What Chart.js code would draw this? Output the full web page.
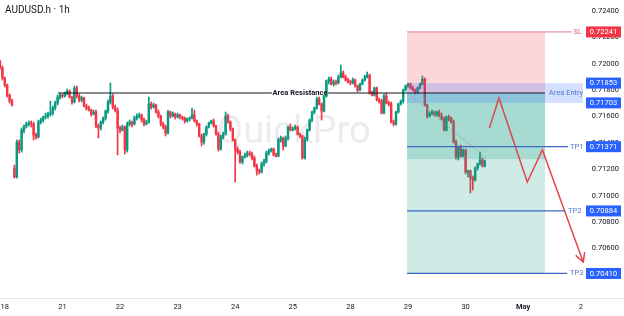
<!DOCTYPE html>
<html>
<head>
<meta charset="utf-8">
<style>
  html, body { margin: 0; padding: 0; background: #fff; }
  canvas { display: block; }
</style>
<script src="https://cdn.jsdelivr.net/npm/chart.js@4.4.1/dist/chart.umd.min.js"></script>
</head>
<body>
<canvas id="chart" width="624" height="316"></canvas>
<script>
// hourly candles, bar 0 = first hour of the 18th
const firstBar = -2;

const opens = [
  .72013,.71967,.71892,.71839,.71763,.71717,.71209,.71141,.71406,.71346,
  .71497,.71528,.71543,.71550,.71543,.71459,.71444,.71558,.71573,.71596,
  .71603,.71619,.71626,.71664,.71702,.71747,.71763,.71755,.71778,.71793,
  .71747,.71710,.71816,.71755,.71725,.71740,.71679,.71664,.71649,.71619,
  .71634,.71528,.71513,.71558,.71588,.71641,.71710,.71755,.71672,.71649,
  .71513,.71497,.71520,.71346,.71543,.71558,.71543,.71588,.71603,.71611,
  .71573,.71543,.71558,.71694,.71672,.71687,.71634,.71603,.71543,.71520,
  .71475,.71634,.71603,.71619,.71596,.71611,.71596,.71588,.71566,.71581,
  .71588,.71611,.71566,.71543,.71452,.71406,.71467,.71520,.71550,.71566,
  .71528,.71467,.71353,.71444,.71467,.71603,.71558,.71505,.71422,.71353,
  .71330,.71255,.71293,.71308,.71323,.71315,.71285,.71224,.71187,.71179,
  .71240,.71262,.71323,.71338,.71353,.71308,.71300,.71422,.71437,.71376,
  .71437,.71520,.71497,.71505,.71520,.71467,.71452,.71285,.71429,.71497,
  .71573,.71634,.71664,.71732,.71694,.71641,.71755,.71869,.71884,.71846,
  .71861,.71854,.71899,.71930,.71899,.71876,.71861,.71854,.71876,.71831,
  .71801,.71846,.71876,.71899,.71914,.71778,.71763,.71816,.71725,.71717,
  .71626,.71755,.71702,.71694,.71558,.71543,.71634,.71694,.71717,.71801,
  .71831,.71846,.71816,.71801,.71785,.71816,.71846,.71884,.71687,.71603,
  .71619,.71634,.71611,.71634,.71603,.71581,.71497,.71596,.71588,.71558,
  .71406,.71293,.71369,.71300,.71346,.71179,.71187,.71133,.71118,.71209,
  .71240,.71270,.71224
];
const highs = [
  .72028,.71983,.71899,.71846,.71770,.71732,.71232,.71422,.71422,.71513,
  .71535,.71558,.71566,.71566,.71558,.71475,.71573,.71588,.71603,.71626,
  .71634,.71717,.71679,.71717,.71763,.71778,.71770,.71785,.71808,.71801,
  .71755,.71831,.71831,.71770,.71755,.71747,.71694,.71679,.71656,.71649,
  .71649,.71543,.71566,.71596,.71649,.71725,.71854,.71770,.71687,.71664,
  .71528,.71535,.71528,.71558,.71573,.71566,.71603,.71619,.71626,.71619,
  .71588,.71573,.71747,.71710,.71702,.71694,.71649,.71611,.71558,.71535,
  .71649,.71641,.71634,.71626,.71626,.71619,.71603,.71596,.71588,.71596,
  .71664,.71649,.71573,.71550,.71467,.71475,.71528,.71558,.71573,.71581,
  .71535,.71482,.71459,.71482,.71634,.71619,.71566,.71513,.71429,.71369,
  .71346,.71300,.71323,.71338,.71338,.71330,.71300,.71240,.71202,.71255,
  .71277,.71338,.71353,.71361,.71361,.71323,.71437,.71452,.71444,.71452,
  .71528,.71543,.71520,.71535,.71528,.71475,.71459,.71444,.71505,.71581,
  .71641,.71672,.71747,.71747,.71702,.71763,.71876,.71899,.71899,.71876,
  .71876,.71914,.71990,.71945,.71914,.71892,.71876,.71892,.71884,.71839,
  .71854,.71884,.71914,.71937,.71922,.71793,.71823,.71823,.71740,.71732,
  .71770,.71778,.71717,.71710,.71573,.71641,.71702,.71725,.71808,.71839,
  .71854,.71854,.71831,.71808,.71823,.71854,.71907,.71892,.71694,.71634,
  .71649,.71641,.71641,.71649,.71626,.71596,.71603,.71611,.71596,.71573,
  .71422,.71376,.71384,.71353,.71353,.71194,.71194,.71149,.71217,.71247,
  .71330,.71285,.71270
];
const lows = [
  .71960,.71876,.71823,.71747,.71702,.71679,.71133,.71133,.71323,.71330,
  .71475,.71513,.71528,.71520,.71422,.71429,.71437,.71543,.71558,.71581,
  .71588,.71603,.71611,.71649,.71687,.71732,.71740,.71747,.71763,.71740,
  .71694,.71702,.71740,.71710,.71710,.71672,.71649,.71641,.71603,.71611,
  .71513,.71437,.71497,.71543,.71573,.71626,.71694,.71656,.71634,.71308,
  .71475,.71490,.71315,.71330,.71528,.71520,.71535,.71573,.71588,.71558,
  .71528,.71535,.71550,.71656,.71664,.71626,.71588,.71528,.71505,.71452,
  .71467,.71588,.71596,.71581,.71588,.71581,.71573,.71550,.71558,.71566,
  .71581,.71558,.71528,.71444,.71376,.71391,.71452,.71513,.71543,.71520,
  .71459,.71338,.71346,.71429,.71459,.71550,.71490,.71414,.71103,.71315,
  .71247,.71240,.71285,.71293,.71300,.71270,.71217,.71156,.71164,.71171,
  .71224,.71247,.71308,.71330,.71300,.71293,.71293,.71406,.71346,.71369,
  .71422,.71490,.71490,.71497,.71459,.71437,.71277,.71277,.71414,.71490,
  .71558,.71619,.71656,.71687,.71573,.71634,.71747,.71846,.71839,.71831,
  .71839,.71846,.71892,.71892,.71869,.71854,.71839,.71846,.71823,.71785,
  .71793,.71839,.71869,.71892,.71770,.71755,.71755,.71717,.71702,.71619,
  .71619,.71694,.71679,.71550,.71528,.71535,.71626,.71687,.71702,.71793,
  .71823,.71808,.71793,.71770,.71778,.71808,.71839,.71679,.71588,.71596,
  .71611,.71603,.71603,.71596,.71573,.71490,.71490,.71566,.71550,.71399,
  .71277,.71270,.71293,.71293,.71164,.71141,.71020,.71042,.71111,.71194,
  .71232,.71217,.71217
];
const closes = [
  .71967,.71892,.71839,.71763,.71717,.71687,.71141,.71406,.71346,.71497,
  .71528,.71543,.71550,.71543,.71459,.71444,.71558,.71573,.71596,.71603,
  .71619,.71626,.71664,.71702,.71747,.71763,.71755,.71778,.71793,.71747,
  .71710,.71816,.71755,.71725,.71740,.71679,.71664,.71649,.71619,.71634,
  .71528,.71513,.71558,.71588,.71641,.71710,.71755,.71672,.71649,.71513,
  .71497,.71520,.71346,.71543,.71558,.71543,.71588,.71603,.71611,.71573,
  .71543,.71558,.71694,.71672,.71687,.71634,.71603,.71543,.71520,.71475,
  .71634,.71603,.71619,.71596,.71611,.71596,.71588,.71566,.71581,.71588,
  .71611,.71566,.71543,.71452,.71406,.71467,.71520,.71550,.71566,.71528,
  .71467,.71353,.71444,.71467,.71603,.71558,.71505,.71422,.71353,.71330,
  .71255,.71293,.71308,.71323,.71315,.71285,.71224,.71187,.71179,.71240,
  .71262,.71323,.71338,.71353,.71308,.71300,.71422,.71437,.71376,.71437,
  .71520,.71497,.71505,.71520,.71467,.71452,.71285,.71429,.71497,.71573,
  .71634,.71664,.71732,.71694,.71641,.71755,.71869,.71884,.71846,.71861,
  .71854,.71899,.71930,.71899,.71876,.71861,.71854,.71876,.71831,.71801,
  .71846,.71876,.71899,.71914,.71778,.71763,.71816,.71725,.71717,.71626,
  .71755,.71702,.71694,.71558,.71543,.71634,.71694,.71717,.71801,.71831,
  .71846,.71816,.71801,.71785,.71816,.71846,.71884,.71687,.71603,.71619,
  .71634,.71611,.71634,.71603,.71581,.71497,.71596,.71588,.71558,.71406,
  .71293,.71369,.71300,.71346,.71179,.71187,.71133,.71118,.71209,.71240,
  .71270,.71224,.71262
];

const dayTicks = [0, 24, 48, 72, 96, 120, 144, 168, 192, 216, 240];
const dayLabels = ['18', '21', '22', '23', '24', '25', '28', '29', '30', 'May', '2'];
const priceTicks = [0.724, 0.722, 0.720, 0.718, 0.716, 0.714, 0.712, 0.710, 0.708, 0.706, 0.704];

// trade levels
const slPrice = 0.72241;
const entryPrice = 0.71778;
const entryTop = 0.71853;
const entryBottom = 0.71703;
const tp1 = 0.71371;
const tp2 = 0.70884;
const tp3 = 0.70410;
const firstTarget = 0.71277;

// drawing anchors, in bars
const zoneStart = 167.6, zoneEnd = 225.1, bandEnd = 240.9;
const resistX = [22.2, 111.3, 134.7, 225.1];
const pathX = [201.9, 205.9, 217.7, 224.0, 241.0];
const pathY = [0.71513, 0.71740, 0.71103, 0.71346, 0.70497];
const trendX = [168.0, 200.9];
const trendY = [0.71778, 0.71277];

const UP = '#089981';
const DOWN = '#f23645';
const FONT = 'Roboto';
Chart.defaults.font.family = FONT;

const barX = opens.map((o, i) => firstBar + i);
const candleColors = opens.map((o, i) => closes[i] >= o ? UP : DOWN);

function hline(x0, x1, p) {
  return [{ x: x0, y: p }, { x: x1, y: p }];
}

const overlay = {
  id: 'overlay',
  beforeDatasetsDraw(chart) {
    const { ctx } = chart;
    ctx.save();
    ctx.font = '38px ' + FONT;
    ctx.fillStyle = 'rgba(120,123,134,0.14)';
    ctx.textBaseline = 'alphabetic';
    ctx.fillText('QuickPro', 217, 143);
    ctx.restore();
  },
  afterDatasetDraw(chart, args) {
    if (args.index !== 1) return;
    const { ctx } = chart;
    const x = chart.scales.x, y = chart.scales.y;
    const rect = (x0, x1, p0, p1, fill) => {
      const a = x.getPixelForValue(x0), b = x.getPixelForValue(x1);
      const c = y.getPixelForValue(p0), d = y.getPixelForValue(p1);
      ctx.fillStyle = fill;
      ctx.fillRect(a, Math.min(c, d), b - a, Math.abs(d - c));
    };
    ctx.save();
    rect(zoneStart, zoneEnd, slPrice, entryPrice, 'rgba(242,54,69,0.2)');
    rect(zoneStart, zoneEnd, entryPrice, tp3, 'rgba(8,153,129,0.2)');
    rect(zoneStart, zoneEnd, entryPrice, firstTarget, 'rgba(8,153,129,0.2)');
    rect(zoneStart, bandEnd, entryTop, entryBottom, 'rgba(41,98,255,0.2)');
    ctx.restore();
  },
  afterDraw(chart) {
    const { ctx } = chart;
    const x = chart.scales.x, y = chart.scales.y;
    ctx.save();

    // arrow head at the end of the projected path
    const n = pathX.length;
    const ex = x.getPixelForValue(pathX[n - 1]), ey = y.getPixelForValue(pathY[n - 1]);
    const sx = x.getPixelForValue(pathX[n - 2]), sy = y.getPixelForValue(pathY[n - 2]);
    const ang = Math.atan2(ey - sy, ex - sx);
    ctx.strokeStyle = '#e0474f';
    ctx.lineWidth = 1.5;
    ctx.beginPath();
    ctx.moveTo(ex - 10 * Math.cos(ang - 0.5), ey - 10 * Math.sin(ang - 0.5));
    ctx.lineTo(ex, ey);
    ctx.lineTo(ex - 10 * Math.cos(ang + 0.5), ey - 10 * Math.sin(ang + 0.5));
    ctx.stroke();

    // title
    ctx.font = '10px ' + FONT;
    ctx.fillStyle = '#131722';
    ctx.textBaseline = 'middle';
    ctx.textAlign = 'left';
    ctx.fillText('AUDUSD.h \u00b7 1h', 5, 10);

    // drawing labels
    ctx.font = 'bold 7.5px ' + FONT;
    ctx.textAlign = 'center';
    ctx.fillText('Area Resistance', x.getPixelForValue(123), y.getPixelForValue(entryPrice));
    ctx.font = '7.5px ' + FONT;
    ctx.fillStyle = '#5577cc';
    ctx.fillText('Area Entry', 566, y.getPixelForValue(entryPrice));
    ctx.textAlign = 'left';
    ctx.fillText('TP1', 570, y.getPixelForValue(tp1));
    ctx.fillText('TP2', 568, y.getPixelForValue(tp2));
    ctx.fillText('TP3', 570, y.getPixelForValue(tp3));
    ctx.fillStyle = '#e0606e';
    ctx.fillText('SL', 573.5, y.getPixelForValue(slPrice));

    // price scale
    ctx.textAlign = 'right';
    ctx.fillStyle = '#131722';
    priceTicks.forEach(p => ctx.fillText(p.toFixed(5), 619, y.getPixelForValue(p)));

    const box = (p, fill) => {
      const py = y.getPixelForValue(p);
      ctx.fillStyle = fill;
      ctx.fillRect(586, py - 5.5, 35, 11);
      ctx.fillStyle = '#ffffff';
      ctx.textAlign = 'center';
      ctx.fillText(p.toFixed(5), 603.5, py + 0.5);
    };
    box(slPrice, '#f23645');
    [entryTop, entryBottom, tp1, tp2, tp3].forEach(p => box(p, '#2962ff'));
    ctx.restore();
  }
};

const lineDs = (data, color, width, dash) => ({
  type: 'line',
  data: data,
  borderColor: color,
  borderWidth: width,
  borderDash: dash || [],
  pointRadius: 0,
  fill: false,
  tension: 0,
  spanGaps: false,
  order: 1
});

new Chart(document.getElementById('chart'), {
  type: 'bar',
  data: {
    datasets: [
      {
        // wicks
        data: barX.map((b, i) => ({ x: b, y: [lows[i], highs[i]] })),
        backgroundColor: candleColors,
        barThickness: 1,
        grouped: false,
        order: 3
      },
      {
        // bodies
        data: barX.map((b, i) => ({ x: b, y: [opens[i], closes[i]] })),
        backgroundColor: candleColors,
        barThickness: 1.8,
        minBarLength: 1,
        grouped: false,
        order: 2
      },
      lineDs([
        { x: resistX[0], y: entryPrice }, { x: resistX[1], y: entryPrice },
        { x: resistX[1], y: null },
        { x: resistX[2], y: entryPrice }, { x: resistX[3], y: entryPrice }
      ], '#131722', 1.2),
      lineDs(hline(zoneStart, 236.3, slPrice), '#e57f8a', 1),
      lineDs(hline(zoneStart, 234.7, tp1), '#3d68c4', 1.2),
      lineDs(hline(zoneStart, 233.4, tp2), '#3d68c4', 1.2),
      lineDs(hline(zoneStart, 234.3, tp3), '#3d68c4', 1.2),
      lineDs(trendX.map((v, i) => ({ x: v, y: trendY[i] })), '#9598a1', 1, [2, 2]),
      lineDs(pathX.map((v, i) => ({ x: v, y: pathY[i] })), '#e0474f', 1.5)
    ]
  },
  options: {
    responsive: false,
    animation: false,
    events: [],
    layout: { padding: 0 },
    plugins: { legend: { display: false }, tooltip: { enabled: false } },
    scales: {
      x: {
        type: 'linear',
        min: -2,
        max: 258,
        offset: false,
        grid: { display: false, drawTicks: false },
        border: { display: true, color: '#e0e3eb' },
        afterBuildTicks: s => { s.ticks = dayTicks.map(v => ({ value: v })); },
        afterFit: s => { s.height = 18; s.paddingLeft = 0; s.paddingRight = 0; },
        ticks: {
          autoSkip: false,
          maxRotation: 0,
          padding: 5,
          color: '#131722',
          font: c => ({ size: 7.5, weight: c.tick && c.tick.value === 216 ? 'bold' : 'normal' }),
          callback: (v) => dayLabels[dayTicks.indexOf(v)]
        }
      },
      y: {
        type: 'linear',
        display: false,
        min: 0.70224,
        max: 0.72483
      }
    }
  },
  plugins: [overlay]
});
</script>
</body>
</html>
